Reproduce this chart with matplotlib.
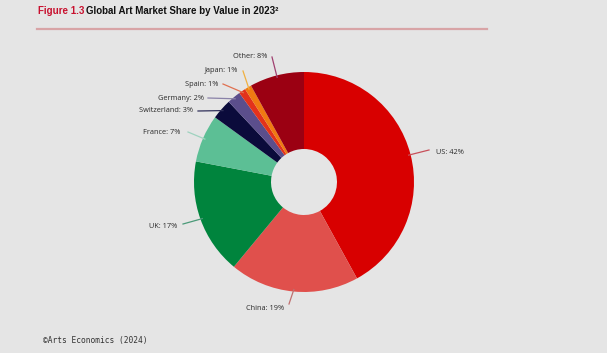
import matplotlib
matplotlib.use('Agg')
from matplotlib import pyplot as plt
import numpy as np

# data
labels = ['US', 'China', 'UK', 'France', 'Switzerland', 'Germany', 'Spain', 'Japan', 'Other']
shares = [42, 19, 17, 7, 3, 2, 1, 1, 8]
colors = ['#d80000', '#e0504c', '#00843d', '#5cbf95', '#0b0b3b',
          '#5b4e8c', '#e3321b', '#f07a12', '#9b0012']
line_colors = ['#c8505a', '#c07070', '#4a9a78', '#9fd3bf', '#30305a',
               '#8a82a8', '#e07050', '#f0b040', '#a04070']

# label text anchor (pixel coords, y from top) and leader end point
text_pos = [(436, 152), (284, 309), (177, 226), (180, 133), (193, 111),
            (204, 98), (218, 84), (238, 71), (267, 57)]
line_end = [(429, 150), (289, 304), (183, 224), (188, 132), (198, 111),
            (208, 98), (223, 84), (243, 71), (272, 57)]

W, H = 607, 353
bg = '#e5e5e5'
fig = plt.figure(figsize=(W / 100, H / 100), dpi=100, facecolor=bg)
ax = fig.add_axes([0, 0, 1, 1])
ax.set_facecolor(bg)

cx, cy, R = 304, H - 182, 110
ax.pie(shares, colors=colors, startangle=90, counterclock=False,
       center=(cx, cy), radius=R, wedgeprops=dict(width=R - 33, linewidth=0))
ax.set_xlim(0, W)
ax.set_ylim(0, H)
ax.set_aspect('equal')
ax.axis('off')

cum = 0
for i, (lab, v) in enumerate(zip(labels, shares)):
    theta = np.deg2rad(90 - 360 * (cum + v / 2) / 100)
    cum += v
    sx, sy = cx + (R - 2) * np.cos(theta), cy + (R - 2) * np.sin(theta)
    ex, ey = line_end[i]
    ax.plot([sx, ex], [sy, H - ey], color=line_colors[i], lw=0.9)
    tx, ty = text_pos[i]
    ha = 'left' if i == 0 else 'right'
    ax.text(tx, H - ty, f'{lab}: {v}%', ha=ha, va='center',
            fontsize=5.3, color='#2a2a2a', family='Open Sans')

# title
ty_title = 1 - 11 / H
t1 = fig.text(38 / W, ty_title, 'Figure 1.3', color='#c8102e', fontsize=7,
              fontweight='bold', family='Liberation Sans', va='center')
fig.canvas.draw()
bb = t1.get_window_extent()
fig.text((bb.x1 + 2) / W, ty_title, 'Global Art Market Share by Value in 2023²',
         color='#111111', fontsize=7, fontweight='bold',
         family='Liberation Sans', va='center')
fig.add_artist(plt.Line2D([37 / W, 487 / W], [1 - 29 / H, 1 - 29 / H],
                          color='#d8a4a6', lw=1.6))

fig.text(43 / W, 13 / H, '©Arts Economics (2024)', family='DejaVu Sans Mono',
         fontsize=5.7, color='#333333', va='center')

fig.savefig('out.png', dpi=100, facecolor=bg)
